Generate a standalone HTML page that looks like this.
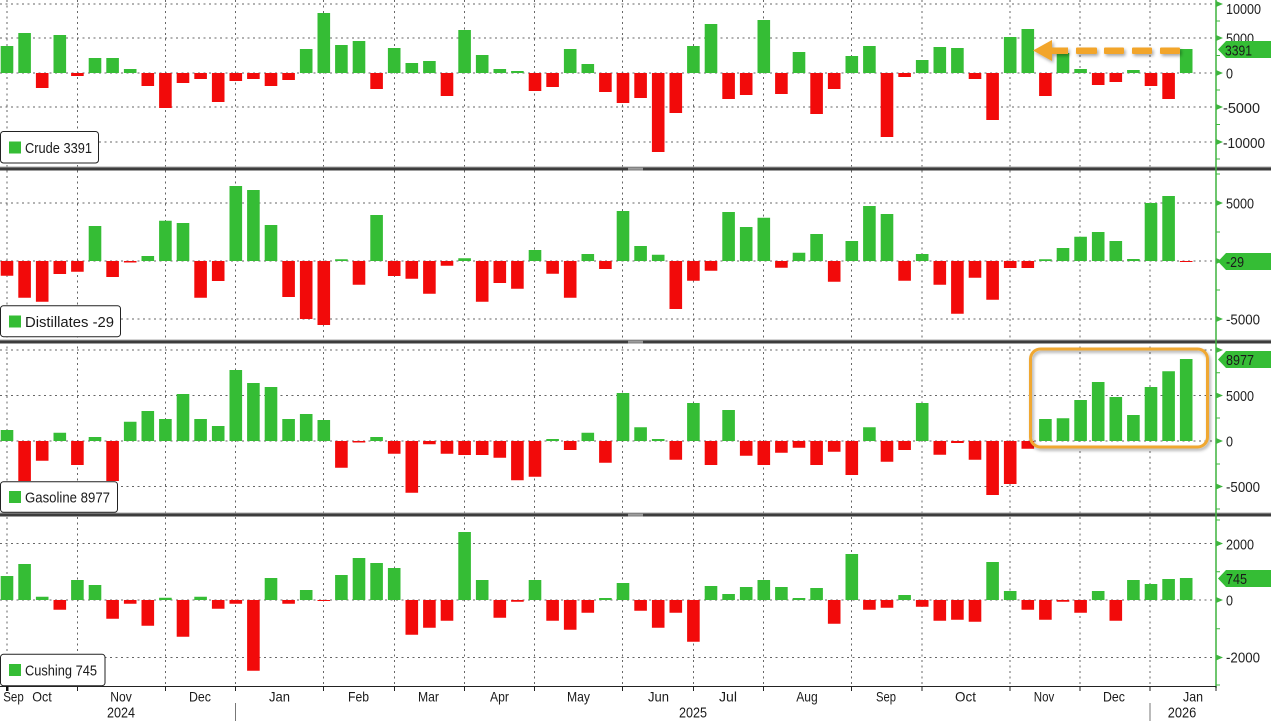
<!DOCTYPE html>
<html>
<head>
<meta charset="utf-8">
<style>
html,body{margin:0;padding:0;background:#fff;}
svg{display:block;}
text{font-family:"Liberation Sans",Arial,sans-serif;}
</style>
</head>
<body>
<svg width="1271" height="721" viewBox="0 0 1271 721" xmlns="http://www.w3.org/2000/svg">
<defs>
<filter id="sh" x="-10%" y="-30%" width="130%" height="180%">
<feDropShadow dx="1.5" dy="2" stdDeviation="1.5" flood-color="#000" flood-opacity="0.35"/>
</filter>
</defs>
<rect width="1271" height="721" fill="#fff"/>

<!-- grid -->
<g stroke="#666" stroke-width="1" stroke-dasharray="2 3.5" fill="none">
<path d="M7 0V686M77.5 0V686M165.5 0V686M235.5 0V686M323.5 0V686M394.5 0V686M464.5 0V686M534.5 0V686M622.5 0V686M693.5 0V686M763.5 0V686M851.5 0V686M922 0V686M1010 0V686M1080 0V686M1150 0V686"/>
<path d="M0 4H1216M0 38H1216M0 73H1216M0 107H1216M0 142H1216M0 203H1216M0 261H1216M0 319H1216M0 350H1216M0 395.5H1216M0 441H1216M0 486.5H1216M0 543.5H1216M0 600H1216M0 657.5H1216"/>
</g>

<!-- Panel 1 Crude -->
<path fill="#35bd35" d="M0.7 73h12.6V46h-12.6zM18.3 73h12.6V33h-12.6zM53.5 73h12.6V35h-12.6zM88.7 73h12.6V58h-12.6zM106.3 73h12.6V58h-12.6zM123.9 73h12.6V69h-12.6zM299.9 73h12.6V49h-12.6zM317.5 73h12.6V13h-12.6zM335.1 73h12.6V45h-12.6zM352.7 73h12.6V41h-12.6zM387.9 73h12.6V48h-12.6zM405.5 73h12.6V63h-12.6zM423.1 73h12.6V61h-12.6zM458.3 73h12.6V30h-12.6zM475.9 73h12.6V55h-12.6zM493.5 73h12.6V69h-12.6zM511.1 73h12.6V71h-12.6zM563.9 73h12.6V49h-12.6zM581.5 73h12.6V64h-12.6zM687.1 73h12.6V46h-12.6zM704.7 73h12.6V24h-12.6zM757.5 73h12.6V20h-12.6zM792.7 73h12.6V52h-12.6zM845.5 73h12.6V56h-12.6zM863.1 73h12.6V46h-12.6zM915.9 73h12.6V60h-12.6zM933.5 73h12.6V47h-12.6zM951.1 73h12.6V48h-12.6zM1003.9 73h12.6V37h-12.6zM1021.5 73h12.6V29h-12.6zM1056.7 73h12.6V53h-12.6zM1074.3 73h12.6V69h-12.6zM1127.1 73h12.6V70h-12.6zM1179.9 73h12.6V49h-12.6z"/>
<path fill="#f20a0a" d="M35.9 73h12.6V88h-12.6zM71.1 73h12.6V76h-12.6zM141.5 73h12.6V86h-12.6zM159.1 73h12.6V108h-12.6zM176.7 73h12.6V83h-12.6zM194.3 73h12.6V79h-12.6zM211.9 73h12.6V102h-12.6zM229.5 73h12.6V81h-12.6zM247.1 73h12.6V79h-12.6zM264.7 73h12.6V86h-12.6zM282.3 73h12.6V80h-12.6zM370.3 73h12.6V89h-12.6zM440.7 73h12.6V96h-12.6zM528.7 73h12.6V91h-12.6zM546.3 73h12.6V87h-12.6zM599.1 73h12.6V92h-12.6zM616.7 73h12.6V103h-12.6zM634.3 73h12.6V98h-12.6zM651.9 73h12.6V152h-12.6zM669.5 73h12.6V113h-12.6zM722.3 73h12.6V99h-12.6zM739.9 73h12.6V95h-12.6zM775.1 73h12.6V94h-12.6zM810.3 73h12.6V114h-12.6zM827.9 73h12.6V89h-12.6zM880.7 73h12.6V137h-12.6zM898.3 73h12.6V77h-12.6zM968.7 73h12.6V79h-12.6zM986.3 73h12.6V120h-12.6zM1039.1 73h12.6V96h-12.6zM1091.9 73h12.6V85h-12.6zM1109.5 73h12.6V82h-12.6zM1144.7 73h12.6V86h-12.6zM1162.3 73h12.6V99h-12.6z"/>

<!-- Panel 2 Distillates -->
<path fill="#35bd35" d="M88.7 261h12.6V226h-12.6zM141.5 261h12.6V256h-12.6zM159.1 261h12.6V220.7h-12.6zM176.7 261h12.6V223h-12.6zM229.5 261h12.6V186h-12.6zM247.1 261h12.6V190h-12.6zM264.7 261h12.6V225h-12.6zM335.1 261h12.6V259.3h-12.6zM370.3 261h12.6V215h-12.6zM458.3 261h12.6V258.3h-12.6zM528.7 261h12.6V250h-12.6zM581.5 261h12.6V254h-12.6zM616.7 261h12.6V211h-12.6zM634.3 261h12.6V246h-12.6zM651.9 261h12.6V254.7h-12.6zM722.3 261h12.6V212h-12.6zM739.9 261h12.6V227h-12.6zM757.5 261h12.6V217.7h-12.6zM792.7 261h12.6V252.7h-12.6zM810.3 261h12.6V234h-12.6zM845.5 261h12.6V241h-12.6zM863.1 261h12.6V206h-12.6zM880.7 261h12.6V214h-12.6zM915.9 261h12.6V254h-12.6zM1039.1 261h12.6V259.3h-12.6zM1056.7 261h12.6V248h-12.6zM1074.3 261h12.6V236.7h-12.6zM1091.9 261h12.6V232h-12.6zM1109.5 261h12.6V241h-12.6zM1127.1 261h12.6V259h-12.6zM1144.7 261h12.6V203h-12.6zM1162.3 261h12.6V196h-12.6z"/>
<path fill="#f20a0a" d="M0.7 261h12.6V275.7h-12.6zM18.3 261h12.6V297.7h-12.6zM35.9 261h12.6V301.7h-12.6zM53.5 261h12.6V274h-12.6zM71.1 261h12.6V271.7h-12.6zM106.3 261h12.6V277h-12.6zM123.9 261h12.6V262.5h-12.6zM194.3 261h12.6V297.7h-12.6zM211.9 261h12.6V281h-12.6zM282.3 261h12.6V297h-12.6zM299.9 261h12.6V319h-12.6zM317.5 261h12.6V325h-12.6zM352.7 261h12.6V284.7h-12.6zM387.9 261h12.6V276h-12.6zM405.5 261h12.6V278.7h-12.6zM423.1 261h12.6V293.7h-12.6zM440.7 261h12.6V265.7h-12.6zM475.9 261h12.6V301.7h-12.6zM493.5 261h12.6V283h-12.6zM511.1 261h12.6V288.7h-12.6zM546.3 261h12.6V273.7h-12.6zM563.9 261h12.6V297.7h-12.6zM599.1 261h12.6V269h-12.6zM669.5 261h12.6V309h-12.6zM687.1 261h12.6V280.7h-12.6zM704.7 261h12.6V270.7h-12.6zM775.1 261h12.6V267.7h-12.6zM827.9 261h12.6V281.7h-12.6zM898.3 261h12.6V280.7h-12.6zM933.5 261h12.6V284.7h-12.6zM951.1 261h12.6V313.7h-12.6zM968.7 261h12.6V277.7h-12.6zM986.3 261h12.6V299.7h-12.6zM1003.9 261h12.6V268h-12.6zM1021.5 261h12.6V268h-12.6zM1179.9 261h12.6V262h-12.6z"/>

<!-- Panel 3 Gasoline -->
<path fill="#35bd35" d="M0.7 441h12.6V430h-12.6zM53.5 441h12.6V432.7h-12.6zM88.7 441h12.6V437h-12.6zM123.9 441h12.6V421.7h-12.6zM141.5 441h12.6V411h-12.6zM159.1 441h12.6V419h-12.6zM176.7 441h12.6V394h-12.6zM194.3 441h12.6V419h-12.6zM211.9 441h12.6V426h-12.6zM229.5 441h12.6V370h-12.6zM247.1 441h12.6V383h-12.6zM264.7 441h12.6V387h-12.6zM282.3 441h12.6V419h-12.6zM299.9 441h12.6V414h-12.6zM317.5 441h12.6V420h-12.6zM370.3 441h12.6V437h-12.6zM546.3 441h12.6V439h-12.6zM581.5 441h12.6V432.7h-12.6zM616.7 441h12.6V393h-12.6zM634.3 441h12.6V427.3h-12.6zM651.9 441h12.6V439h-12.6zM687.1 441h12.6V403h-12.6zM722.3 441h12.6V410h-12.6zM863.1 441h12.6V427.3h-12.6zM915.9 441h12.6V403h-12.6zM1039.1 441h12.6V419h-12.6zM1056.7 441h12.6V418.3h-12.6zM1074.3 441h12.6V400h-12.6zM1091.9 441h12.6V382h-12.6zM1109.5 441h12.6V397h-12.6zM1127.1 441h12.6V415h-12.6zM1144.7 441h12.6V387h-12.6zM1162.3 441h12.6V371.3h-12.6zM1179.9 441h12.6V359h-12.6z"/>
<path fill="#f20a0a" d="M18.3 441h12.6V481h-12.6zM35.9 441h12.6V460.7h-12.6zM71.1 441h12.6V465h-12.6zM106.3 441h12.6V481h-12.6zM335.1 441h12.6V467.7h-12.6zM352.7 441h12.6V442.5h-12.6zM387.9 441h12.6V453.7h-12.6zM405.5 441h12.6V492.7h-12.6zM423.1 441h12.6V444.3h-12.6zM440.7 441h12.6V453.7h-12.6zM458.3 441h12.6V455h-12.6zM475.9 441h12.6V455h-12.6zM493.5 441h12.6V457.7h-12.6zM511.1 441h12.6V480.3h-12.6zM528.7 441h12.6V476.7h-12.6zM563.9 441h12.6V450h-12.6zM599.1 441h12.6V462.7h-12.6zM669.5 441h12.6V459.7h-12.6zM704.7 441h12.6V465h-12.6zM739.9 441h12.6V455.7h-12.6zM757.5 441h12.6V465h-12.6zM775.1 441h12.6V452.7h-12.6zM792.7 441h12.6V447.7h-12.6zM810.3 441h12.6V465h-12.6zM827.9 441h12.6V451.7h-12.6zM845.5 441h12.6V475h-12.6zM880.7 441h12.6V461.7h-12.6zM898.3 441h12.6V450h-12.6zM933.5 441h12.6V454.7h-12.6zM951.1 441h12.6V443h-12.6zM968.7 441h12.6V459.7h-12.6zM986.3 441h12.6V495h-12.6zM1003.9 441h12.6V484h-12.6zM1021.5 441h12.6V448.7h-12.6z"/>

<!-- Panel 4 Cushing -->
<path fill="#35bd35" d="M0.7 600h12.6V576h-12.6zM18.3 600h12.6V564h-12.6zM35.9 600h12.6V596.7h-12.6zM71.1 600h12.6V580h-12.6zM88.7 600h12.6V585h-12.6zM159.1 600h12.6V597.7h-12.6zM194.3 600h12.6V596.7h-12.6zM264.7 600h12.6V578h-12.6zM299.9 600h12.6V590h-12.6zM335.1 600h12.6V575h-12.6zM352.7 600h12.6V558h-12.6zM370.3 600h12.6V563h-12.6zM387.9 600h12.6V568h-12.6zM458.3 600h12.6V532h-12.6zM475.9 600h12.6V580h-12.6zM528.7 600h12.6V580h-12.6zM599.1 600h12.6V598h-12.6zM616.7 600h12.6V583h-12.6zM704.7 600h12.6V586h-12.6zM722.3 600h12.6V594h-12.6zM739.9 600h12.6V587h-12.6zM757.5 600h12.6V580h-12.6zM775.1 600h12.6V587h-12.6zM792.7 600h12.6V598h-12.6zM810.3 600h12.6V588h-12.6zM845.5 600h12.6V554h-12.6zM898.3 600h12.6V595h-12.6zM986.3 600h12.6V562h-12.6zM1003.9 600h12.6V591h-12.6zM1091.9 600h12.6V591h-12.6zM1127.1 600h12.6V580h-12.6zM1144.7 600h12.6V584h-12.6zM1162.3 600h12.6V579h-12.6zM1179.9 600h12.6V578h-12.6z"/>
<path fill="#f20a0a" d="M53.5 600h12.6V609.7h-12.6zM106.3 600h12.6V618.7h-12.6zM123.9 600h12.6V603.7h-12.6zM141.5 600h12.6V625.7h-12.6zM176.7 600h12.6V636.7h-12.6zM211.9 600h12.6V608.7h-12.6zM229.5 600h12.6V603.7h-12.6zM247.1 600h12.6V670.7h-12.6zM282.3 600h12.6V603.7h-12.6zM317.5 600h12.6V601h-12.6zM405.5 600h12.6V634.7h-12.6zM423.1 600h12.6V627.7h-12.6zM440.7 600h12.6V620.7h-12.6zM493.5 600h12.6V617.7h-12.6zM511.1 600h12.6V601.7h-12.6zM546.3 600h12.6V620.7h-12.6zM563.9 600h12.6V629.7h-12.6zM581.5 600h12.6V612.7h-12.6zM634.3 600h12.6V610.7h-12.6zM651.9 600h12.6V627.7h-12.6zM669.5 600h12.6V612.7h-12.6zM687.1 600h12.6V641.7h-12.6zM827.9 600h12.6V623.7h-12.6zM863.1 600h12.6V609.7h-12.6zM880.7 600h12.6V607.7h-12.6zM915.9 600h12.6V606.7h-12.6zM933.5 600h12.6V620.7h-12.6zM951.1 600h12.6V619.7h-12.6zM968.7 600h12.6V621.7h-12.6zM1021.5 600h12.6V609.7h-12.6zM1039.1 600h12.6V619.7h-12.6zM1056.7 600h12.6V601.7h-12.6zM1074.3 600h12.6V612.7h-12.6zM1109.5 600h12.6V620.7h-12.6z"/>

<!-- panel separators -->
<rect x="0" y="166.5" width="1271" height="1" fill="#aaa"/>
<rect x="0" y="167.5" width="1271" height="3" fill="#3c3c3c"/>
<rect x="0" y="339.5" width="1271" height="1" fill="#aaa"/>
<rect x="0" y="340.5" width="1271" height="3" fill="#3c3c3c"/>
<rect x="0" y="512.5" width="1271" height="1" fill="#aaa"/>
<rect x="0" y="513.5" width="1271" height="3" fill="#3c3c3c"/>
<g stroke="#bbb" stroke-width="0.8">
<path d="M628 168.3H643M628 169.8H643M628 341.3H643M628 342.8H643M628 514.3H643M628 515.8H643"/>
</g>

<!-- right axis -->
<line x1="1216" y1="0" x2="1216" y2="688" stroke="#3fb43f" stroke-width="1.5"/>
<g fill="#3fb43f">
<path d="M1216 1l7 3l-7 3zM1216 35l7 3l-7 3zM1216 70l7 3l-7 3zM1216 104l7 3l-7 3zM1216 139l7 3l-7 3z"/>
<path d="M1216 200l7 3l-7 3zM1216 258l7 3l-7 3zM1216 316l7 3l-7 3z"/>
<path d="M1216 347l7 3l-7 3zM1216 392.5l7 3l-7 3zM1216 438l7 3l-7 3zM1216 483.5l7 3l-7 3z"/>
<path d="M1216 540.5l7 3l-7 3zM1216 597l7 3l-7 3zM1216 654.5l7 3l-7 3z"/>
</g>
<g stroke="#3fb43f" stroke-width="1">
<path d="M1216 21H1220M1216 55.5H1220M1216 90H1220M1216 124.5H1220M1216 159H1220M1216 174H1220M1216 232H1220M1216 290H1220M1216 372.7H1220M1216 418H1220M1216 464H1220M1216 509H1220M1216 520H1220M1216 571.7H1220M1216 628.7H1220M1216 685H1220"/>
</g>
<g font-size="14.5" fill="#222">
<text x="1226" y="14" textLength="35" lengthAdjust="spacingAndGlyphs">10000</text>
<text x="1226" y="43.5" textLength="28" lengthAdjust="spacingAndGlyphs">5000</text>
<text x="1226" y="78.5" textLength="7" lengthAdjust="spacingAndGlyphs">0</text>
<text x="1223" y="113" textLength="37" lengthAdjust="spacingAndGlyphs">-5000</text>
<text x="1223" y="148" textLength="42" lengthAdjust="spacingAndGlyphs">-10000</text>
<text x="1226" y="208.5" textLength="28" lengthAdjust="spacingAndGlyphs">5000</text>
<text x="1226" y="324.5" textLength="34" lengthAdjust="spacingAndGlyphs">-5000</text>
<text x="1226" y="401" textLength="28" lengthAdjust="spacingAndGlyphs">5000</text>
<text x="1226" y="446.5" textLength="7" lengthAdjust="spacingAndGlyphs">0</text>
<text x="1226" y="492" textLength="34" lengthAdjust="spacingAndGlyphs">-5000</text>
<text x="1226" y="549.5" textLength="28" lengthAdjust="spacingAndGlyphs">2000</text>
<text x="1226" y="605.5" textLength="7" lengthAdjust="spacingAndGlyphs">0</text>
<text x="1226" y="662.5" textLength="34" lengthAdjust="spacingAndGlyphs">-2000</text>
</g>

<!-- value tags -->
<g fill="#35bd35">
<path d="M1218 49.5L1226 41H1271V58H1226Z"/>
<path d="M1218 261.5L1226 253H1271V270H1226Z"/>
<path d="M1218 359.5L1226 351H1271V368H1226Z"/>
<path d="M1218 578.5L1226 570H1271V587H1226Z"/>
</g>
<g font-size="15" fill="#1a1a1a">
<text x="1225" y="55.5" textLength="27" lengthAdjust="spacingAndGlyphs">3391</text>
<text x="1226" y="267" textLength="18" lengthAdjust="spacingAndGlyphs">-29</text>
<text x="1226" y="365" textLength="28" lengthAdjust="spacingAndGlyphs">8977</text>
<text x="1226" y="584" textLength="21" lengthAdjust="spacingAndGlyphs">745</text>
</g>

<!-- legends -->
<g stroke="#222" stroke-width="1" fill="#fff">
<rect x="0.5" y="131.5" width="98" height="31.5" rx="3"/>
<rect x="0.5" y="305.7" width="120" height="31" rx="3"/>
<rect x="0.5" y="481.7" width="117" height="30.6" rx="3"/>
<rect x="0.5" y="654.3" width="104.5" height="31.4" rx="3"/>
</g>
<g fill="#35bd35">
<rect x="9" y="141.5" width="12" height="12"/>
<rect x="9" y="315.5" width="12" height="12"/>
<rect x="9" y="491" width="12" height="12"/>
<rect x="9" y="664" width="12" height="12"/>
</g>
<g font-size="15" fill="#1a1a1a">
<text x="25" y="153" textLength="67" lengthAdjust="spacingAndGlyphs">Crude 3391</text>
<text x="25" y="327" textLength="89" lengthAdjust="spacingAndGlyphs">Distillates -29</text>
<text x="25" y="502.5" textLength="85" lengthAdjust="spacingAndGlyphs">Gasoline 8977</text>
<text x="25" y="675.5" textLength="72" lengthAdjust="spacingAndGlyphs">Cushing 745</text>
</g>

<!-- bottom axis -->
<line x1="0" y1="686.5" x2="1216" y2="686.5" stroke="#222" stroke-width="1"/>
<g stroke="#222" stroke-width="1">
<path d="M77.5 686V691M165.5 686V691M235.5 686V691M323.5 686V691M394.5 686V691M464.5 686V691M534.5 686V691M622.5 686V691M693.5 686V691M763.5 686V691M851.5 686V691M922 686V691M1010 686V691M1080 686V691M1150 686V691M1216 686V691"/>
</g>
<rect x="6" y="686" width="2.5" height="5" fill="#111"/>
<g font-size="14" fill="#1a1a1a" text-anchor="middle">
<text x="13.5" y="701.5" textLength="20.5" lengthAdjust="spacingAndGlyphs">Sep</text>
<text x="42" y="701.5" textLength="19.5" lengthAdjust="spacingAndGlyphs">Oct</text>
<text x="121" y="701.5" textLength="21.5" lengthAdjust="spacingAndGlyphs">Nov</text>
<text x="200" y="701.5" textLength="22" lengthAdjust="spacingAndGlyphs">Dec</text>
<text x="279.5" y="701.5" textLength="21" lengthAdjust="spacingAndGlyphs">Jan</text>
<text x="358.5" y="701.5" textLength="21" lengthAdjust="spacingAndGlyphs">Feb</text>
<text x="428.5" y="701.5" textLength="21" lengthAdjust="spacingAndGlyphs">Mar</text>
<text x="499.5" y="701.5" textLength="19" lengthAdjust="spacingAndGlyphs">Apr</text>
<text x="578.5" y="701.5" textLength="23" lengthAdjust="spacingAndGlyphs">May</text>
<text x="658.5" y="701.5" textLength="21" lengthAdjust="spacingAndGlyphs">Jun</text>
<text x="728" y="701.5" textLength="18" lengthAdjust="spacingAndGlyphs">Jul</text>
<text x="807" y="701.5" textLength="21.5" lengthAdjust="spacingAndGlyphs">Aug</text>
<text x="886" y="701.5" textLength="20" lengthAdjust="spacingAndGlyphs">Sep</text>
<text x="965.5" y="701.5" textLength="21" lengthAdjust="spacingAndGlyphs">Oct</text>
<text x="1044" y="701.5" textLength="20.5" lengthAdjust="spacingAndGlyphs">Nov</text>
<text x="1114" y="701.5" textLength="22" lengthAdjust="spacingAndGlyphs">Dec</text>
<text x="1193" y="701.5" textLength="20" lengthAdjust="spacingAndGlyphs">Jan</text>
<text x="121" y="717.5" font-size="14.5" textLength="28" lengthAdjust="spacingAndGlyphs">2024</text>
<text x="693" y="717.5" font-size="14.5" textLength="28" lengthAdjust="spacingAndGlyphs">2025</text>
<text x="1182" y="717.5" font-size="14.5" textLength="28.5" lengthAdjust="spacingAndGlyphs">2026</text>
</g>
<g stroke="#777" stroke-width="1">
<path d="M235.5 703V721M1150 703V721"/>
</g>

<!-- annotations -->
<g filter="url(#sh)">
<path d="M1033 50.5L1052 40V61Z" fill="#f2a52a"/>
<rect x="1048" y="47.5" width="20" height="6.5" fill="#f2a52a"/>
<rect x="1076" y="47.5" width="21" height="6.5" rx="1" fill="#f2a52a"/>
<rect x="1104" y="47.5" width="20" height="6.5" rx="1" fill="#f2a52a"/>
<rect x="1132" y="47.5" width="20" height="6.5" rx="1" fill="#f2a52a"/>
<rect x="1160" y="47.5" width="20" height="6.5" rx="1" fill="#f2a52a"/>
</g>
<rect x="1030.5" y="349" width="177" height="98" rx="10" fill="none" stroke="#f0a830" stroke-width="3" filter="url(#sh)"/>
</svg>
</body>
</html>
